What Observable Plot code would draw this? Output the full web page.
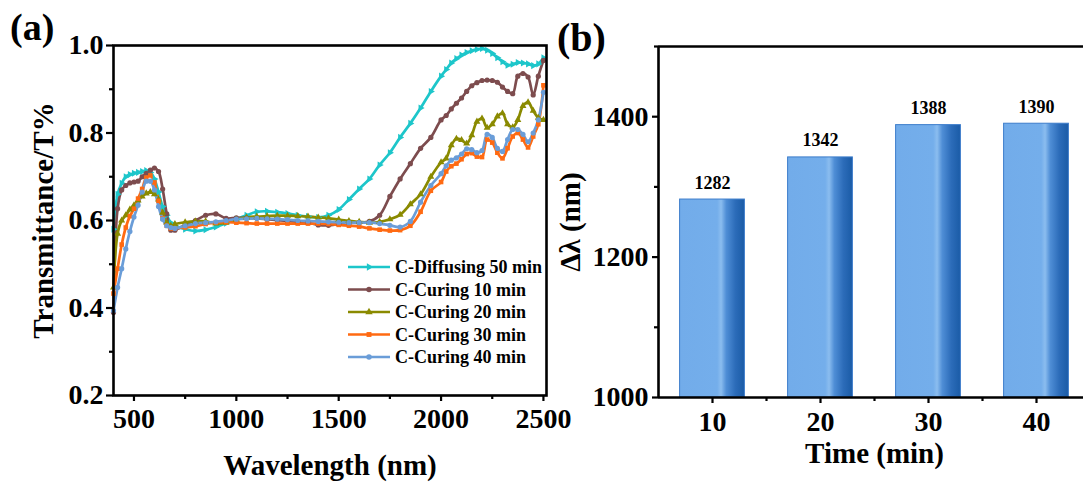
<!DOCTYPE html>
<html><head><meta charset="utf-8">
<script src="https://cdn.jsdelivr.net/npm/d3@7"></script>
<script src="https://cdn.jsdelivr.net/npm/@observablehq/plot@0.6"></script>
<style>
html,body{margin:0;padding:0;background:#fff;overflow:hidden;}
#wrap{position:relative;width:1083px;height:483px;overflow:hidden;background:#fff;}
#wrap svg{overflow:visible;position:absolute;top:0;}
</style></head><body>
<svg width="0" height="0" style="position:absolute">
  <defs>
    <linearGradient id="barGrad" x1="0" x2="1" y1="0" y2="0">
      <stop offset="0" stop-color="#72ACEA"/>
      <stop offset="0.58" stop-color="#74AEEB"/>
      <stop offset="0.64" stop-color="#8BBDEF"/>
      <stop offset="0.72" stop-color="#4F8ED6"/>
      <stop offset="0.86" stop-color="#2C6CB9"/>
      <stop offset="1" stop-color="#1A5BA6"/>
    </linearGradient>
  </defs>
</svg>
<div id="wrap"></div>
<script>
// ---------- Panel (a) data ----------
const wavelength = [400,420,440,460,480,500,520,540,560,580,600,620,640,660,680,700,
  750,800,850,900,950,1000,1050,1100,1150,1200,1250,1300,1350,1400,1450,1500,1550,1600,1650,1700,1750,1800,1850,1900,1950,2000,
  2025,2050,2075,2100,2125,2150,2175,2200,2225,2250,2275,2300,2325,2350,2375,2400,2425,2450,2475,2500];

const seriesNames = ["C-Diffusing 50 min","C-Curing 10 min","C-Curing 20 min","C-Curing 30 min","C-Curing 40 min"];
const seriesColors = ["#1DC6CA","#7D4C4E","#8A8A00","#FF6A12","#6A9DD8"];
const seriesSymbols = ["triangle","circle","triangle","square","circle"];

const diffusing50 = [0.58,0.66,0.685,0.70,0.705,0.708,0.71,0.712,0.714,0.71,0.695,0.665,0.632,0.612,0.595,0.588,
  0.58,0.576,0.579,0.585,0.594,0.603,0.612,0.62,0.621,0.619,0.616,0.612,0.609,0.607,0.612,0.625,0.648,0.672,0.695,0.727,0.755,0.79,0.822,0.857,0.895,0.93,
  0.945,0.96,0.97,0.978,0.984,0.988,0.991,0.993,0.989,0.982,0.972,0.963,0.955,0.957,0.961,0.96,0.958,0.954,0.958,0.972];
const curing10 = [0.39,0.627,0.67,0.68,0.686,0.688,0.69,0.70,0.708,0.715,0.72,0.712,0.672,0.615,0.578,0.578,
  0.59,0.60,0.612,0.615,0.605,0.606,0.606,0.605,0.603,0.601,0.599,0.597,0.595,0.59,0.589,0.592,0.594,0.595,0.598,0.612,0.655,0.695,0.73,0.765,0.79,0.83,
  0.84,0.855,0.868,0.88,0.895,0.908,0.915,0.92,0.921,0.92,0.916,0.905,0.895,0.89,0.93,0.936,0.928,0.887,0.93,0.966];
const curing20 = [0.447,0.57,0.60,0.612,0.625,0.635,0.646,0.655,0.662,0.665,0.66,0.648,0.618,0.595,0.588,0.592,
  0.596,0.598,0.598,0.593,0.595,0.602,0.607,0.609,0.61,0.611,0.611,0.61,0.609,0.607,0.605,0.602,0.599,0.597,0.595,0.597,0.603,0.613,0.637,0.66,0.70,0.733,
  0.742,0.772,0.787,0.784,0.776,0.795,0.826,0.833,0.812,0.82,0.838,0.845,0.82,0.813,0.83,0.862,0.87,0.851,0.835,0.83];
const curing30 = [0.433,0.49,0.545,0.584,0.61,0.627,0.65,0.672,0.698,0.703,0.687,0.645,0.605,0.588,0.582,0.582,
  0.584,0.587,0.592,0.595,0.596,0.595,0.594,0.593,0.593,0.593,0.593,0.593,0.593,0.593,0.592,0.59,0.588,0.586,0.582,0.579,0.577,0.578,0.588,0.62,0.668,0.688,
  0.712,0.724,0.73,0.74,0.752,0.754,0.746,0.745,0.785,0.778,0.755,0.742,0.765,0.792,0.80,0.785,0.767,0.792,0.82,0.909];
const curing40 = [0.394,0.447,0.49,0.535,0.575,0.608,0.635,0.665,0.69,0.69,0.67,0.632,0.603,0.588,0.584,0.582,
  0.588,0.593,0.595,0.597,0.60,0.603,0.604,0.605,0.604,0.603,0.602,0.60,0.599,0.598,0.597,0.596,0.595,0.595,0.595,0.593,0.589,0.585,0.598,0.642,0.68,0.707,
  0.725,0.738,0.743,0.752,0.764,0.762,0.755,0.76,0.797,0.79,0.765,0.758,0.785,0.808,0.808,0.797,0.78,0.80,0.83,0.893];
const seriesValues = [diffusing50, curing10, curing20, curing30, curing40];

const xTicksA = [500,1000,1500,2000,2500];
const xMinorA = [750,1250,1750,2250];
const yTicksA = [0.2,0.4,0.6,0.8,1.0];
const yMinorA = [0.3,0.5,0.7,0.9];

// ---------- Panel (b) data ----------
const times = [10,20,30,40];
const deltaLambda = [1282,1342,1388,1390];
const xTicksB = [10,20,30,40];
const xMinorB = [15,25,35];
const yTicksB = [1000,1200,1400];
const yMinorB = [1100,1300,1500];

const FONT = '"Liberation Serif","Times New Roman",serif';

const rows = [];
seriesNames.forEach((s, i) => wavelength.forEach((w, j) => rows.push({s, wl: w, T: seriesValues[i][j]})));

const xDomA = [400, 2515], yDomA = [0.2, 1.0];
const left = Plot.plot({
  width: 550, height: 483,
  marginLeft: 113, marginRight: 4, marginTop: 45, marginBottom: 88,
  x: {domain: xDomA},
  y: {domain: yDomA},
  color: {domain: seriesNames, range: seriesColors},
  symbol: {domain: seriesNames, range: seriesSymbols},
  style: {fontFamily: FONT, fontWeight: "bold", background: "transparent", color: "black"},
  marks: [
    Plot.line(rows, {x: "wl", y: "T", z: "s", stroke: "s", strokeWidth: 2.7, curve: "catmull-rom"}),
    Plot.dot(rows, {x: "wl", y: "T", symbol: "s", fill: "s", stroke: null, r: 2.6,
      rotate: d => d.s === seriesNames[0] ? 90 : 0}),
    Plot.frame({stroke: "black", strokeWidth: 2.6}),
    Plot.axisY(yTicksA, {tickSize: 7, tickPadding: 3, strokeWidth: 2.2, fontSize: 28, label: null, tickFormat: d3.format(".1f")}),
    Plot.axisY(yMinorA, {tickSize: 4, strokeWidth: 2.2, label: null, tickFormat: () => ""}),
    Plot.axisX(xTicksA, {tickSize: 6, tickPadding: 7, strokeWidth: 2.2, fontSize: 28, label: null, tickFormat: d => String(d)}),
    Plot.axisX(xMinorA, {tickSize: 4, strokeWidth: 2.2, label: null, tickFormat: () => ""}),
    Plot.text(["Wavelength (nm)"], {frameAnchor: "bottom", dy: 70, fontSize: 29, lineAnchor: "middle", textAnchor: "middle"}),
    Plot.text(["Transmittance/T%"], {frameAnchor: "left", dx: -70, rotate: -90, fontSize: 29, lineAnchor: "middle", textAnchor: "middle"})
  ]
});
left.style.left = "0px";

const bars = times.map((t, i) => ({t, v: deltaLambda[i]}));
const xDomB = [5, 45], yDomB = [1000, 1500];
const halfW = 3;
const right = Plot.plot({
  width: 545, height: 483,
  marginLeft: 108, marginRight: 5, marginTop: 46, marginBottom: 86,
  x: {domain: xDomB},
  y: {domain: yDomB},
  style: {fontFamily: FONT, fontWeight: "bold", background: "transparent", color: "black"},
  marks: [
    Plot.rectY(bars, {x1: d => d.t - halfW, x2: d => d.t + halfW, y1: yDomB[0], y2: "v",
      fill: "url(#barGrad)", stroke: "#3D7DCB", strokeWidth: 1}),
    Plot.text(bars, {x: "t", y: "v", text: d => String(d.v), dy: -11, lineAnchor: "bottom", fontSize: 18}),
    Plot.ruleX([xDomB[0]], {stroke: "black", strokeWidth: 2.6}),
    Plot.ruleY(yDomB, {stroke: "black", strokeWidth: 2.6}),
    Plot.axisY(yTicksB, {tickSize: 6, tickPadding: 4, strokeWidth: 2.2, fontSize: 28, label: null, tickFormat: d => String(d)}),
    Plot.axisY(yMinorB, {tickSize: 4, strokeWidth: 2.2, label: null, tickFormat: () => ""}),
    Plot.axisX(xTicksB, {tickSize: 6, tickPadding: 8, strokeWidth: 2.2, fontSize: 28, label: null, tickFormat: d => String(d)}),
    Plot.axisX(xMinorB, {tickSize: 4, strokeWidth: 2.2, label: null, tickFormat: () => ""}),
    Plot.text(["Time (min)"], {frameAnchor: "bottom", dy: 56, fontSize: 29, lineAnchor: "middle", textAnchor: "middle"}),
    Plot.text(["Δλ (nm)"], {frameAnchor: "left", dx: -88, rotate: -90, fontSize: 29, lineAnchor: "middle", textAnchor: "middle"})
  ]
});
right.style.left = "550px";

const wrap = document.getElementById("wrap");
wrap.appendChild(left);
wrap.appendChild(right);

// Overlay: panel letters and legend
const ov = d3.select(wrap).append("svg")
  .attr("width", 1083).attr("height", 483)
  .style("left", "0px")
  .attr("font-family", FONT).attr("font-weight", "bold");
ov.append("text").attr("x", 10).attr("y", 40).attr("font-size", 38).text("(a)");
ov.append("text").attr("x", 557).attr("y", 51).attr("font-size", 40).text("(b)");

const lg = ov.append("g").attr("transform", "translate(348,267)");
seriesNames.forEach((s, i) => {
  const g = lg.append("g").attr("transform", `translate(0,${i * 22.5})`);
  g.append("line").attr("x1", 0).attr("x2", 42).attr("y1", 0).attr("y2", 0)
    .attr("stroke", seriesColors[i]).attr("stroke-width", 2.7);
  const sym = seriesSymbols[i] === "triangle" ? d3.symbolTriangle : seriesSymbols[i] === "square" ? d3.symbolSquare : d3.symbolCircle;
  g.append("path").attr("d", d3.symbol(sym, 24)())
    .attr("transform", `translate(21,0) rotate(${i === 0 ? 90 : 0})`)
    .attr("fill", seriesColors[i]);
  g.append("text").attr("x", 47).attr("y", 0).attr("dy", "0.34em").attr("font-size", 18).text(s);
});
</script>
</body></html>
